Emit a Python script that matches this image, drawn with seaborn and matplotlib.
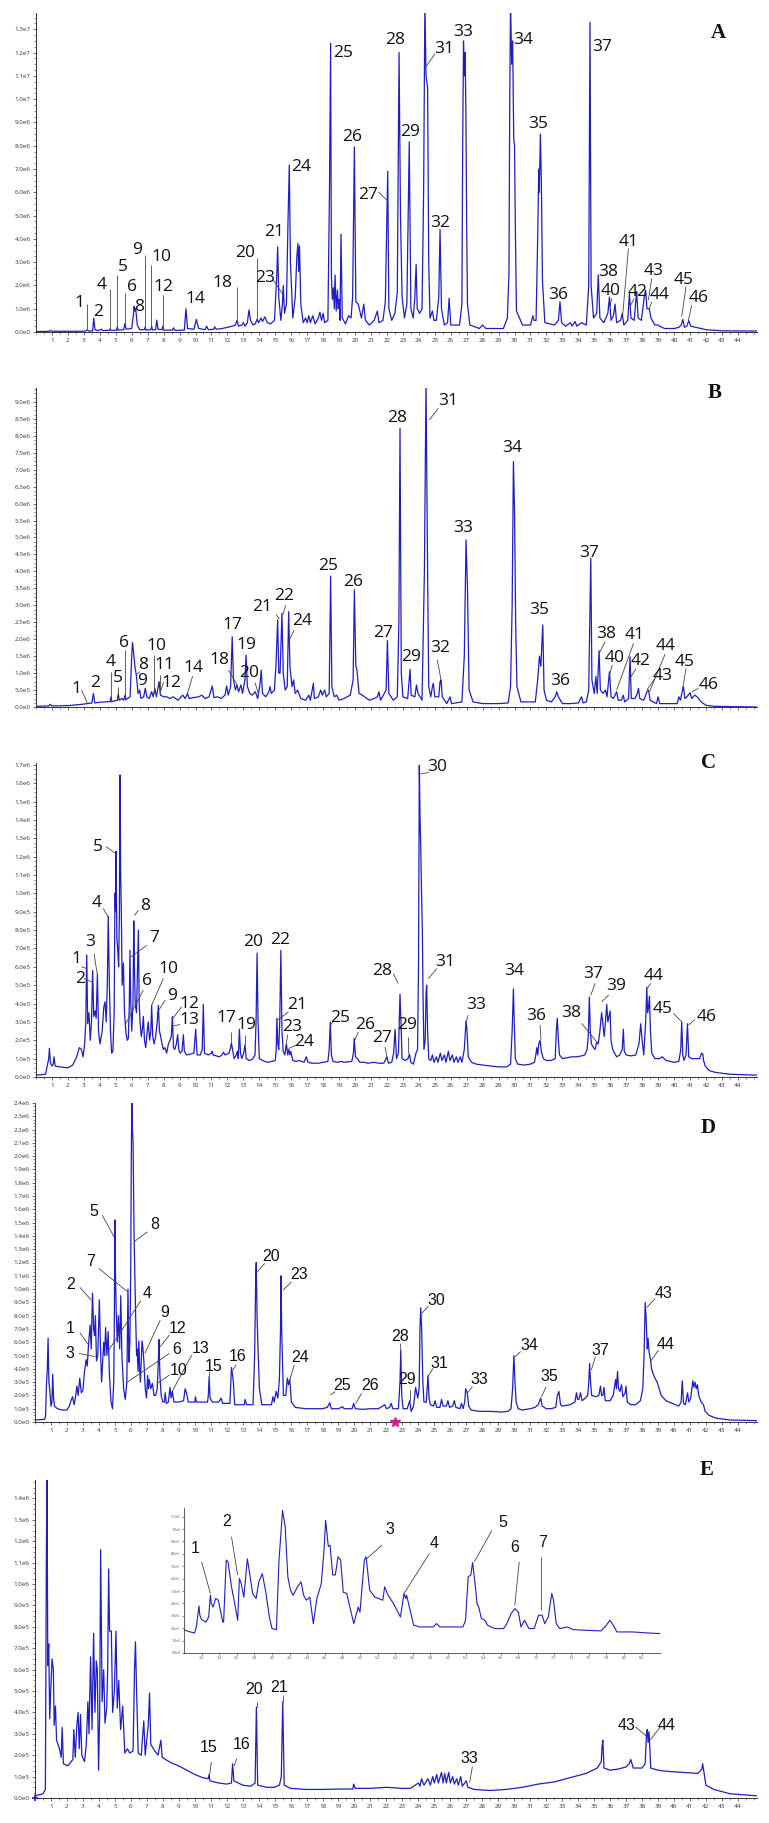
import math
import matplotlib
matplotlib.use('Agg')
import matplotlib.pyplot as plt
from matplotlib.ticker import FixedLocator, FuncFormatter, MultipleLocator
import numpy as np
import pandas as pd
import seaborn as sns

# ---- data: (retention time min, intensity) ----
# A and B intensities in 1e6 counts, C, D, E and inset in 1e5 counts
a_trace = [
    (0.0, 0.02), (0.8, 0.03), (0.9, 0.07), (1.0, 0.03), (2.5, 0.03), (3.1, 0.04), (3.2, 0.09), (3.3, 0.04),
    (3.55, 0.05), (3.62, 0.59), (3.7, 0.1), (3.9, 0.06), (4.1, 0.12), (4.2, 0.06), (4.6, 0.08), (4.65, 0.14),
    (4.7, 0.07), (5.05, 0.08), (5.1, 0.22), (5.15, 0.08), (5.5, 0.1), (5.57, 0.36), (5.65, 0.12), (6.0, 0.15),
    (6.1, 0.7), (6.15, 1.1), (6.2, 0.9), (6.25, 1.0), (6.35, 0.3), (6.5, 0.1), (6.8, 0.1), (6.85, 0.22),
    (6.9, 0.08), (7.2, 0.1), (7.25, 0.25), (7.3, 0.09), (7.5, 0.1), (7.57, 0.51), (7.65, 0.12), (7.9, 0.1),
    (7.95, 0.25), (8.0, 0.08), (8.55, 0.08), (8.62, 0.18), (8.7, 0.07), (9.3, 0.08), (9.4, 1.0), (9.5, 0.15),
    (9.9, 0.12), (10.05, 0.54), (10.2, 0.15), (10.6, 0.1), (10.7, 0.25), (10.8, 0.1), (11.15, 0.12), (11.2, 0.22),
    (11.3, 0.12), (11.6, 0.14), (12.0, 0.2), (12.3, 0.25), (12.5, 0.3), (12.6, 0.5), (12.7, 0.25), (12.9, 0.3),
    (13.0, 0.4), (13.1, 0.25), (13.25, 0.4), (13.35, 0.95), (13.45, 0.5), (13.6, 0.3), (13.75, 0.35), (13.85, 0.55),
    (13.95, 0.4), (14.1, 0.6), (14.2, 0.45), (14.35, 0.65), (14.5, 0.4), (14.7, 0.35), (14.95, 0.5), (15.1, 2.5),
    (15.15, 3.66), (15.22, 1.5), (15.35, 0.5), (15.45, 1.2), (15.5, 2.0), (15.58, 0.8), (15.7, 1.2), (15.8, 4.8),
    (15.88, 7.17), (15.95, 3.0), (16.1, 0.6), (16.25, 1.5), (16.35, 3.2), (16.42, 3.8), (16.47, 2.6), (16.52, 3.7),
    (16.6, 1.2), (16.75, 0.4), (16.9, 0.6), (17.0, 0.4), (17.1, 0.7), (17.2, 0.4), (17.35, 0.7), (17.5, 0.35),
    (17.7, 0.6), (17.8, 0.85), (17.9, 0.5), (18.0, 0.8), (18.1, 0.4), (18.3, 0.5), (18.4, 6.2), (18.47, 12.4),
    (18.52, 2.4), (18.58, 1.4), (18.65, 1.9), (18.7, 1.0), (18.75, 2.45), (18.82, 0.9), (18.9, 1.8), (18.95, 1.0),
    (19.0, 1.4), (19.06, 0.5), (19.12, 4.2), (19.2, 0.6), (19.4, 0.35), (19.6, 0.7), (19.75, 0.6), (19.85, 1.5),
    (19.96, 7.95), (20.05, 1.3), (20.2, 1.2), (20.3, 0.9), (20.4, 0.6), (20.55, 1.2), (20.65, 0.5), (20.9, 0.3),
    (21.2, 0.5), (21.4, 0.9), (21.5, 0.4), (21.75, 0.5), (21.9, 1.3), (22.05, 6.9), (22.12, 1.0), (22.3, 0.5),
    (22.5, 0.8), (22.65, 1.7), (22.76, 12.0), (22.85, 5.0), (22.95, 1.5), (23.1, 0.6), (23.25, 1.2), (23.4, 8.17),
    (23.5, 1.0), (23.65, 0.6), (23.75, 1.5), (23.83, 2.9), (23.9, 1.0), (24.05, 0.8), (24.2, 1.0), (24.3, 6.0),
    (24.38, 14.2), (24.45, 11.0), (24.55, 10.5), (24.62, 3.0), (24.7, 0.6), (24.85, 0.9), (24.95, 0.5), (25.1, 0.5),
    (25.25, 1.5), (25.33, 4.4), (25.42, 1.0), (25.6, 0.3), (25.8, 0.4), (25.9, 1.45), (26.0, 0.3), (26.55, 0.3),
    (26.7, 1.2), (26.75, 8.0), (26.8, 12.5), (26.85, 11.0), (26.9, 12.0), (26.95, 9.5), (27.0, 4.5), (27.05, 1.2),
    (27.2, 0.3), (27.8, 0.15), (28.0, 0.3), (28.2, 0.15), (29.3, 0.15), (29.55, 0.6), (29.65, 2.5), (29.7, 10.0),
    (29.75, 14.2), (29.82, 11.5), (29.88, 12.5), (29.95, 8.3), (30.0, 8.0), (30.05, 4.5), (30.12, 0.9), (30.5, 0.3),
    (31.0, 0.3), (31.15, 0.7), (31.22, 0.5), (31.35, 0.5), (31.45, 4.0), (31.52, 7.0), (31.55, 6.0), (31.62, 8.5),
    (31.68, 6.5), (31.75, 2.2), (31.9, 0.4), (32.2, 0.35), (32.5, 0.3), (32.75, 0.5), (32.85, 1.3), (32.95, 0.4),
    (33.2, 0.25), (33.5, 0.4), (33.6, 0.25), (33.8, 0.45), (33.9, 0.25), (34.2, 0.4), (34.5, 0.3), (34.65, 2.0),
    (34.73, 13.3), (34.8, 2.0), (34.95, 0.6), (35.15, 0.8), (35.25, 2.45), (35.35, 0.6), (35.6, 0.4), (35.85, 0.8),
    (35.95, 1.5), (36.05, 0.5), (36.2, 0.7), (36.3, 1.2), (36.4, 0.4), (36.65, 0.5), (36.75, 0.8), (36.85, 0.3),
    (37.1, 0.5), (37.2, 1.65), (37.3, 0.6), (37.5, 0.5), (37.65, 1.73), (37.75, 0.6), (37.95, 0.5), (38.15, 1.6),
    (38.22, 1.8), (38.3, 1.0), (38.45, 1.0), (38.55, 0.6), (38.8, 0.3), (39.0, 0.3), (39.1, 0.25), (39.4, 0.15),
    (40.0, 0.15), (40.3, 0.2), (40.45, 0.3), (40.55, 0.54), (40.65, 0.2), (40.8, 0.25), (40.92, 0.49), (41.05, 0.25),
    (41.5, 0.18), (42.0, 0.1), (43.0, 0.05), (45.2, 0.04),
]

b_trace = [
    (0.0, 0.02), (0.8, 0.03), (0.9, 0.08), (1.0, 0.03), (2.0, 0.04), (2.9, 0.08), (3.2, 0.1), (3.5, 0.12),
    (3.6, 0.4), (3.68, 0.12), (4.0, 0.14), (4.3, 0.15), (4.65, 0.16), (4.7, 0.3), (4.75, 0.16), (5.1, 0.2),
    (5.16, 0.4), (5.22, 0.2), (5.4, 0.25), (5.5, 0.2), (5.58, 0.35), (5.65, 0.22), (5.9, 0.3), (6.0, 1.5),
    (6.05, 1.9), (6.12, 1.6), (6.2, 1.2), (6.3, 0.9), (6.4, 0.4), (6.5, 0.5), (6.58, 0.25), (6.75, 0.3),
    (6.85, 0.55), (6.95, 0.3), (7.1, 0.25), (7.25, 0.45), (7.35, 0.3), (7.45, 0.55), (7.55, 0.3), (7.72, 0.75),
    (7.8, 0.35), (8.0, 0.3), (8.2, 0.3), (8.4, 0.25), (8.6, 0.3), (8.9, 0.2), (9.2, 0.35), (9.35, 0.25),
    (9.5, 0.4), (9.6, 0.25), (9.9, 0.28), (10.2, 0.3), (10.4, 0.35), (10.6, 0.25), (10.85, 0.3), (11.05, 0.62),
    (11.15, 0.28), (11.4, 0.3), (11.6, 0.25), (11.85, 0.35), (11.95, 0.62), (12.05, 0.35), (12.2, 0.6), (12.3, 2.07),
    (12.38, 0.8), (12.5, 0.5), (12.6, 0.65), (12.7, 0.45), (12.85, 0.65), (12.95, 0.4), (13.1, 0.8), (13.17, 1.53),
    (13.25, 0.6), (13.4, 0.4), (13.55, 0.35), (13.75, 0.45), (13.9, 0.25), (14.05, 0.7), (14.12, 1.09), (14.2, 0.4),
    (14.4, 0.3), (14.6, 0.45), (14.67, 0.6), (14.75, 0.4), (14.95, 0.5), (15.05, 1.3), (15.15, 2.57), (15.22, 1.0),
    (15.3, 1.0), (15.42, 2.76), (15.5, 1.0), (15.62, 0.5), (15.75, 0.6), (15.84, 2.81), (15.92, 1.2), (16.05, 0.6),
    (16.15, 0.8), (16.25, 0.4), (16.4, 0.5), (16.6, 0.25), (16.9, 0.2), (17.1, 0.35), (17.2, 0.2), (17.39, 0.7),
    (17.45, 0.25), (17.7, 0.3), (17.85, 0.5), (17.95, 0.35), (18.1, 0.5), (18.2, 0.3), (18.38, 0.4), (18.47, 3.86),
    (18.55, 0.6), (18.7, 0.3), (18.85, 0.35), (19.0, 0.2), (19.3, 0.25), (19.5, 0.3), (19.7, 0.35), (19.88, 0.8),
    (19.96, 3.45), (20.05, 1.2), (20.12, 1.1), (20.25, 0.4), (20.45, 0.35), (20.6, 0.3), (20.9, 0.2), (21.2, 0.25),
    (21.4, 0.3), (21.5, 0.45), (21.6, 0.2), (21.95, 0.5), (22.03, 1.96), (22.12, 0.4), (22.4, 0.2), (22.65, 0.3),
    (22.75, 2.5), (22.82, 8.22), (22.9, 1.0), (23.0, 0.3), (23.3, 0.25), (23.4, 0.8), (23.45, 1.11), (23.52, 0.35),
    (23.75, 0.3), (23.85, 0.65), (23.95, 0.4), (24.2, 0.2), (24.35, 4.0), (24.45, 9.6), (24.55, 4.0), (24.62, 0.6),
    (24.75, 0.3), (24.85, 0.6), (24.91, 0.7), (25.0, 0.3), (25.25, 0.3), (25.33, 0.75), (25.39, 0.8), (25.47, 0.3),
    (25.75, 0.1), (25.96, 0.3), (26.05, 0.1), (26.7, 0.15), (26.85, 1.5), (26.96, 4.93), (27.05, 3.5), (27.15, 0.5),
    (27.4, 0.15), (28.0, 0.1), (29.0, 0.1), (29.6, 0.12), (29.75, 0.6), (29.85, 3.0), (29.93, 7.24), (30.0, 5.8),
    (30.07, 2.5), (30.15, 0.6), (30.4, 0.15), (31.3, 0.15), (31.45, 0.8), (31.56, 1.5), (31.65, 1.2), (31.77, 2.42),
    (31.85, 0.5), (32.0, 0.2), (32.3, 0.15), (32.55, 0.3), (32.65, 0.45), (32.75, 0.3), (33.0, 0.1), (33.5, 0.1),
    (34.0, 0.12), (34.2, 0.3), (34.3, 0.12), (34.5, 0.15), (34.65, 0.5), (34.78, 4.39), (34.85, 0.8), (35.0, 0.4),
    (35.1, 0.9), (35.18, 0.4), (35.3, 1.66), (35.38, 0.5), (35.55, 0.4), (35.7, 0.5), (35.8, 0.3), (35.95, 1.04),
    (36.05, 0.3), (36.2, 0.25), (36.4, 0.45), (36.5, 0.2), (36.7, 0.2), (36.82, 0.35), (36.9, 0.15), (37.15, 0.25),
    (37.24, 1.48), (37.32, 0.25), (37.55, 0.25), (37.7, 0.4), (37.77, 0.55), (37.85, 0.25), (38.1, 0.2), (38.3, 0.45),
    (38.4, 0.5), (38.5, 0.2), (38.9, 0.1), (39.0, 0.3), (39.1, 0.1), (40.2, 0.1), (40.3, 0.3), (40.4, 0.2),
    (40.58, 0.62), (40.68, 0.25), (40.8, 0.3), (41.0, 0.42), (41.1, 0.25), (41.3, 0.35), (41.45, 0.3), (41.7, 0.15),
    (42.0, 0.05), (42.5, 0.02), (45.2, 0.0),
]

c_trace = [
    (0.0, 0.1), (0.6, 0.15), (0.7, 0.6), (0.8, 1.0), (0.84, 1.56), (0.9, 0.8), (1.0, 0.6), (1.08, 0.7),
    (1.13, 1.1), (1.2, 0.6), (1.5, 0.55), (2.0, 0.5), (2.3, 0.65), (2.55, 1.1), (2.72, 1.6), (2.85, 1.5),
    (2.95, 1.1), (3.05, 1.8), (3.12, 3.0), (3.18, 6.65), (3.24, 2.9), (3.32, 3.5), (3.4, 2.0), (3.48, 3.0),
    (3.55, 5.8), (3.62, 3.3), (3.7, 3.6), (3.77, 3.2), (3.85, 5.6), (3.92, 2.5), (4.01, 1.8), (4.15, 2.5),
    (4.25, 3.8), (4.33, 4.1), (4.4, 3.0), (4.47, 5.0), (4.53, 8.75), (4.6, 5.0), (4.67, 2.5), (4.74, 1.3),
    (4.82, 1.4), (4.9, 3.5), (4.95, 10.0), (4.99, 9.0), (5.02, 12.3), (5.07, 7.5), (5.12, 7.0), (5.18, 6.0),
    (5.23, 9.0), (5.27, 16.45), (5.31, 11.0), (5.35, 9.0), (5.4, 5.0), (5.48, 6.2), (5.55, 3.5), (5.64, 2.4),
    (5.72, 2.0), (5.79, 2.1), (5.85, 4.0), (5.89, 6.9), (5.94, 4.0), (6.0, 2.5), (6.08, 4.0), (6.13, 8.5),
    (6.17, 6.0), (6.22, 4.0), (6.3, 3.5), (6.37, 6.0), (6.42, 8.0), (6.47, 4.0), (6.52, 3.0), (6.6, 2.2),
    (6.67, 2.6), (6.73, 3.3), (6.8, 2.0), (6.88, 1.6), (6.95, 2.3), (7.04, 3.0), (7.12, 2.0), (7.2, 2.5),
    (7.25, 3.9), (7.32, 2.2), (7.4, 1.8), (7.5, 2.2), (7.6, 3.0), (7.67, 3.9), (7.74, 2.5), (7.82, 2.2),
    (7.9, 1.8), (7.98, 1.5), (8.08, 1.6), (8.19, 1.3), (8.3, 1.8), (8.4, 2.0), (8.48, 2.2), (8.55, 3.3),
    (8.62, 1.6), (8.7, 1.5), (8.8, 1.8), (8.88, 2.3), (8.95, 1.5), (9.03, 1.3), (9.15, 1.4), (9.24, 2.3),
    (9.3, 1.4), (9.45, 1.2), (9.7, 1.25), (9.9, 1.3), (10.01, 2.6), (10.1, 1.2), (10.3, 1.2), (10.42, 1.5),
    (10.49, 3.95), (10.56, 1.3), (10.8, 1.2), (11.0, 1.3), (11.05, 1.4), (11.1, 1.2), (11.5, 1.1), (11.65, 1.2),
    (11.75, 1.35), (11.85, 1.2), (12.1, 1.3), (12.2, 1.6), (12.25, 1.85), (12.32, 1.5), (12.42, 1.0), (12.55, 1.2),
    (12.62, 1.4), (12.68, 1.0), (12.75, 2.6), (12.82, 1.3), (12.9, 1.0), (13.02, 1.3), (13.1, 1.75), (13.18, 1.0),
    (13.35, 0.9), (13.55, 0.95), (13.73, 1.2), (13.8, 3.2), (13.86, 6.75), (13.92, 3.0), (14.0, 1.0), (14.2, 0.9),
    (14.5, 0.8), (14.8, 0.85), (15.0, 0.9), (15.06, 1.5), (15.1, 3.2), (15.16, 1.8), (15.22, 1.5), (15.28, 3.0),
    (15.35, 6.9), (15.42, 2.5), (15.5, 1.4), (15.6, 1.2), (15.7, 1.8), (15.78, 1.2), (15.85, 1.5), (15.92, 1.2),
    (15.97, 1.4), (16.1, 0.9), (16.3, 0.85), (16.5, 0.9), (16.8, 0.8), (16.95, 1.1), (17.05, 0.8), (17.3, 0.75),
    (17.7, 0.75), (18.0, 0.8), (18.3, 0.85), (18.38, 1.5), (18.45, 3.0), (18.52, 1.2), (18.62, 0.85), (18.9, 0.8),
    (19.15, 0.85), (19.3, 0.8), (19.8, 0.85), (19.9, 1.3), (19.95, 2.1), (20.03, 1.1), (20.15, 1.0), (20.3, 0.8),
    (20.6, 0.8), (20.8, 0.75), (21.2, 0.8), (21.5, 0.75), (21.8, 0.75), (21.92, 0.95), (22.0, 1.1), (22.1, 0.75),
    (22.3, 0.8), (22.42, 1.3), (22.51, 2.6), (22.6, 1.0), (22.72, 1.3), (22.82, 4.5), (22.88, 3.0), (22.95, 1.0),
    (23.15, 0.9), (23.32, 1.0), (23.41, 1.25), (23.5, 0.8), (23.66, 0.7), (23.82, 1.3), (23.92, 1.5), (23.98, 6.0),
    (24.03, 16.97), (24.08, 14.0), (24.12, 12.5), (24.17, 10.0), (24.22, 8.0), (24.27, 4.0), (24.32, 1.5), (24.4, 2.0),
    (24.45, 4.5), (24.49, 5.0), (24.55, 2.5), (24.62, 1.0), (24.75, 0.9), (24.85, 1.2), (24.95, 0.8), (25.1, 1.1),
    (25.2, 0.8), (25.35, 1.3), (25.45, 0.9), (25.6, 1.2), (25.7, 0.8), (25.85, 1.4), (25.95, 0.9), (26.1, 1.2),
    (26.2, 0.8), (26.35, 1.1), (26.45, 0.8), (26.6, 1.1), (26.7, 0.8), (26.85, 1.5), (26.96, 3.05), (27.02, 2.5),
    (27.1, 1.1), (27.3, 0.8), (27.6, 0.7), (28.0, 0.65), (28.5, 0.6), (29.0, 0.55), (29.5, 0.55), (29.75, 0.7),
    (29.85, 2.5), (29.93, 4.8), (29.98, 3.0), (30.05, 1.0), (30.2, 0.7), (30.6, 0.65), (31.0, 0.7), (31.25, 0.8),
    (31.35, 1.3), (31.39, 1.6), (31.45, 1.2), (31.52, 1.8), (31.6, 2.0), (31.68, 1.4), (31.8, 1.0), (32.0, 0.9),
    (32.3, 0.9), (32.55, 1.0), (32.62, 2.5), (32.68, 3.2), (32.75, 2.0), (32.82, 1.2), (33.0, 1.0), (33.3, 1.05),
    (33.6, 1.1), (33.9, 1.1), (34.2, 1.15), (34.4, 1.2), (34.55, 1.5), (34.62, 2.2), (34.69, 4.35), (34.75, 2.5),
    (34.82, 1.8), (34.95, 1.6), (35.05, 1.5), (35.15, 1.9), (35.25, 1.8), (35.35, 2.5), (35.46, 3.5), (35.55, 2.8),
    (35.62, 2.2), (35.7, 3.0), (35.78, 3.95), (35.85, 3.0), (35.92, 3.3), (35.99, 3.6), (36.05, 2.0), (36.15, 1.5),
    (36.4, 1.1), (36.6, 1.2), (36.75, 1.5), (36.82, 2.6), (36.88, 1.4), (37.0, 1.2), (37.3, 1.15), (37.6, 1.2),
    (37.8, 1.8), (37.91, 2.9), (38.0, 2.0), (38.1, 1.2), (38.22, 3.0), (38.29, 4.9), (38.34, 3.5), (38.4, 3.8),
    (38.46, 4.4), (38.52, 2.5), (38.6, 1.3), (38.8, 1.0), (39.1, 1.0), (39.25, 1.1), (39.5, 0.9), (40.0, 0.8),
    (40.3, 0.85), (40.42, 1.5), (40.48, 3.0), (40.55, 1.2), (40.62, 0.9), (40.75, 1.2), (40.84, 2.9), (40.92, 1.1),
    (41.1, 1.0), (41.4, 1.0), (41.6, 1.0), (41.72, 1.3), (41.8, 1.25), (41.85, 0.9), (41.95, 0.6), (42.2, 0.35),
    (42.6, 0.25), (43.5, 0.15), (45.2, 0.1),
]

d_trace = [
    (0.0, 0.15), (0.6, 0.2), (0.66, 0.4), (0.71, 2.6), (0.77, 4.0), (0.82, 6.3), (0.87, 3.0), (0.92, 2.5),
    (1.0, 1.2), (1.06, 1.5), (1.11, 3.6), (1.16, 1.8), (1.22, 1.2), (1.4, 1.0), (1.7, 0.9), (2.0, 0.9),
    (2.15, 1.2), (2.25, 1.6), (2.35, 1.9), (2.45, 1.3), (2.55, 2.0), (2.62, 2.7), (2.7, 2.0), (2.8, 3.3),
    (2.9, 2.2), (3.0, 2.4), (3.1, 3.8), (3.2, 4.7), (3.27, 4.2), (3.35, 5.8), (3.45, 7.3), (3.52, 5.5),
    (3.6, 9.7), (3.67, 7.0), (3.73, 6.5), (3.78, 8.0), (3.85, 4.6), (3.93, 5.0), (4.03, 9.2), (4.1, 5.5),
    (4.17, 3.0), (4.3, 6.0), (4.36, 5.0), (4.42, 7.1), (4.5, 5.0), (4.58, 6.8), (4.66, 3.5), (4.76, 1.5),
    (4.85, 1.0), (4.93, 3.0), (4.97, 8.0), (5.0, 15.2), (5.04, 11.0), (5.08, 8.5), (5.15, 6.0), (5.22, 8.0),
    (5.3, 5.5), (5.37, 9.5), (5.44, 5.0), (5.55, 2.5), (5.65, 1.7), (5.75, 3.0), (5.82, 10.0), (5.88, 4.5),
    (5.94, 6.0), (5.99, 11.0), (6.03, 20.0), (6.06, 24.2), (6.1, 22.0), (6.14, 21.0), (6.2, 14.2), (6.25, 11.0),
    (6.3, 8.0), (6.36, 5.0), (6.4, 5.5), (6.45, 3.8), (6.5, 6.1), (6.55, 4.0), (6.6, 3.0), (6.7, 6.1),
    (6.76, 5.5), (6.82, 4.5), (6.9, 2.5), (6.98, 1.8), (7.05, 3.5), (7.1, 2.5), (7.15, 3.2), (7.25, 2.5),
    (7.35, 2.9), (7.45, 2.0), (7.55, 2.0), (7.65, 2.5), (7.72, 4.5), (7.76, 6.2), (7.82, 3.5), (7.9, 2.0),
    (8.0, 1.5), (8.1, 1.5), (8.15, 2.2), (8.22, 1.4), (8.35, 1.5), (8.45, 2.6), (8.52, 1.8), (8.6, 2.3),
    (8.7, 1.5), (9.0, 1.5), (9.3, 1.6), (9.4, 2.5), (9.5, 2.1), (9.6, 1.5), (10.0, 1.5), (10.05, 1.9),
    (10.1, 1.5), (10.8, 1.5), (10.85, 2.0), (10.9, 3.4), (10.96, 1.8), (11.1, 1.5), (11.5, 1.5), (11.65, 1.8),
    (11.75, 1.4), (12.2, 1.4), (12.3, 4.1), (12.36, 3.6), (12.42, 3.0), (12.5, 1.3), (12.9, 1.3), (13.1, 1.3),
    (13.15, 1.7), (13.25, 1.3), (13.65, 1.3), (13.75, 5.0), (13.82, 11.0), (13.85, 12.0), (13.9, 8.0), (13.95, 6.0),
    (14.05, 2.5), (14.2, 1.3), (14.8, 1.3), (14.9, 1.9), (14.97, 1.5), (15.1, 2.3), (15.2, 1.8), (15.3, 3.2),
    (15.37, 7.0), (15.4, 11.0), (15.45, 6.5), (15.55, 2.0), (15.7, 2.0), (15.8, 3.3), (15.87, 2.8), (15.95, 3.2),
    (16.05, 1.5), (16.3, 1.1), (16.6, 1.05), (17.0, 1.0), (17.5, 1.0), (18.0, 1.0), (18.3, 1.1), (18.45, 1.45),
    (18.55, 1.0), (19.0, 1.0), (19.25, 1.15), (19.35, 1.0), (19.85, 1.0), (19.95, 1.4), (20.05, 1.0), (20.5, 0.95),
    (21.0, 1.0), (21.5, 1.0), (21.9, 1.3), (22.0, 1.0), (22.2, 1.1), (22.3, 1.4), (22.4, 1.0), (22.75, 1.0),
    (22.85, 3.0), (22.9, 5.4), (22.96, 2.0), (23.04, 1.0), (23.3, 1.0), (23.46, 1.6), (23.55, 0.8), (23.7, 1.2),
    (23.83, 2.6), (23.96, 1.8), (24.05, 2.5), (24.1, 7.0), (24.15, 8.6), (24.21, 6.8), (24.28, 3.0), (24.35, 1.5),
    (24.5, 1.5), (24.6, 3.5), (24.67, 1.8), (24.75, 1.3), (24.95, 1.2), (25.05, 1.6), (25.15, 1.1), (25.35, 1.1),
    (25.45, 1.7), (25.55, 1.2), (25.75, 1.2), (25.85, 1.6), (25.95, 1.1), (26.15, 1.2), (26.25, 1.6), (26.35, 1.1),
    (26.6, 1.0), (26.7, 1.4), (26.8, 1.0), (26.9, 1.5), (26.96, 2.5), (27.06, 2.2), (27.15, 1.2), (27.3, 0.9),
    (27.8, 0.8), (28.5, 0.8), (29.2, 0.75), (29.6, 0.8), (29.8, 1.0), (29.9, 2.5), (29.98, 5.0), (30.05, 3.0),
    (30.12, 1.5), (30.25, 1.0), (30.5, 0.9), (31.0, 1.0), (31.3, 1.1), (31.5, 1.3), (31.6, 1.6), (31.66, 1.8),
    (31.75, 1.2), (32.0, 1.0), (32.3, 1.0), (32.6, 1.1), (32.7, 2.0), (32.8, 2.3), (32.9, 1.3), (33.0, 1.2),
    (33.5, 1.3), (33.8, 1.5), (33.9, 2.2), (33.97, 1.7), (34.05, 1.7), (34.15, 2.2), (34.25, 1.6), (34.45, 1.8),
    (34.6, 2.0), (34.67, 3.0), (34.72, 4.4), (34.78, 3.0), (34.85, 2.0), (35.1, 1.9), (35.3, 2.0), (35.4, 2.7),
    (35.47, 2.0), (35.55, 2.0), (35.62, 2.6), (35.7, 1.6), (36.0, 1.6), (36.2, 2.0), (36.3, 2.8), (36.35, 3.2),
    (36.4, 2.5), (36.47, 3.8), (36.53, 2.5), (36.62, 2.3), (36.72, 2.8), (36.8, 1.9), (36.95, 2.2), (37.0, 2.7),
    (37.08, 1.5), (37.3, 1.3), (37.6, 1.3), (37.9, 1.6), (38.05, 2.5), (38.13, 5.0), (38.2, 9.0), (38.26, 7.8),
    (38.33, 5.5), (38.38, 6.3), (38.45, 5.2), (38.52, 4.8), (38.6, 4.0), (38.7, 3.6), (38.85, 3.2), (38.95, 3.0),
    (39.2, 2.0), (39.5, 1.6), (39.9, 1.4), (40.3, 1.2), (40.45, 1.5), (40.52, 3.1), (40.6, 1.4), (40.72, 1.3),
    (40.85, 2.2), (40.93, 1.5), (41.05, 1.8), (41.18, 3.1), (41.25, 2.6), (41.32, 3.0), (41.4, 2.5), (41.47, 2.8),
    (41.55, 2.0), (41.7, 1.5), (41.85, 1.3), (41.95, 0.8), (42.2, 0.5), (42.6, 0.3), (43.5, 0.15), (45.2, 0.1),
]

e_trace = [
    (0.0, 0.1), (0.5, 0.2), (0.65, 0.4), (0.71, 11.0), (0.75, 15.5), (0.8, 6.2), (0.86, 7.2), (0.92, 3.7),
    (1.0, 5.3), (1.07, 6.5), (1.15, 6.0), (1.2, 3.4), (1.28, 4.3), (1.35, 2.7), (1.53, 2.3), (1.64, 1.9),
    (1.7, 3.3), (1.78, 1.6), (2.05, 1.5), (2.37, 1.8), (2.43, 3.2), (2.52, 1.9), (2.62, 3.4), (2.7, 4.0),
    (2.77, 2.3), (2.85, 3.9), (2.93, 2.0), (3.1, 1.7), (3.21, 2.5), (3.31, 4.5), (3.38, 3.0), (3.48, 6.6),
    (3.57, 3.2), (3.67, 7.7), (3.75, 4.0), (3.84, 6.4), (3.9, 6.0), (3.98, 1.3), (4.05, 4.0), (4.11, 11.6),
    (4.2, 4.5), (4.3, 6.0), (4.38, 3.5), (4.49, 4.2), (4.55, 6.0), (4.61, 10.7), (4.67, 7.8), (4.72, 7.8),
    (4.78, 7.8), (4.86, 4.0), (4.97, 5.0), (5.07, 7.8), (5.15, 4.2), (5.24, 5.5), (5.36, 3.2), (5.49, 4.3),
    (5.62, 2.1), (5.79, 2.3), (5.93, 2.1), (6.14, 2.2), (6.23, 6.0), (6.29, 7.3), (6.36, 5.0), (6.46, 2.1),
    (6.65, 2.0), (6.81, 3.6), (6.9, 2.0), (7.09, 3.4), (7.17, 4.9), (7.25, 2.5), (7.5, 2.2), (7.7, 2.0),
    (7.88, 2.7), (7.96, 1.9), (8.5, 1.65), (9.0, 1.5), (9.5, 1.3), (10.0, 1.1), (10.5, 0.95), (10.85, 0.9),
    (10.9, 1.1), (10.95, 0.8), (11.5, 0.7), (12.0, 0.65), (12.3, 0.7), (12.37, 1.6), (12.45, 0.8), (13.0, 0.6),
    (13.5, 0.55), (13.78, 0.7), (13.86, 4.25), (13.94, 0.6), (14.5, 0.5), (15.0, 0.5), (15.3, 0.6), (15.42, 1.0),
    (15.51, 4.5), (15.6, 0.6), (16.0, 0.45), (17.0, 0.4), (18.0, 0.4), (19.0, 0.42), (19.9, 0.42), (19.95, 0.65),
    (20.05, 0.45), (21.0, 0.45), (22.0, 0.5), (23.0, 0.45), (23.5, 0.45), (23.8, 0.6), (24.0, 0.7), (24.1, 0.55),
    (24.2, 0.9), (24.35, 0.6), (24.6, 0.9), (24.75, 0.6), (24.9, 1.0), (25.0, 0.7), (25.15, 1.1), (25.25, 0.7),
    (25.45, 1.2), (25.55, 0.7), (25.65, 1.15), (25.75, 0.7), (25.9, 1.2), (26.0, 0.7), (26.15, 1.0), (26.25, 0.65),
    (26.4, 0.9), (26.5, 0.6), (26.65, 1.0), (26.75, 0.55), (27.0, 0.8), (27.1, 0.5), (27.5, 0.4), (28.5, 0.35),
    (29.5, 0.4), (30.5, 0.5), (31.5, 0.65), (32.5, 0.75), (33.5, 0.95), (34.5, 1.15), (35.2, 1.4), (35.45, 1.7),
    (35.5, 2.4), (35.55, 2.7), (35.62, 1.4), (36.0, 1.3), (36.5, 1.35), (37.0, 1.45), (37.2, 1.6), (37.3, 1.8),
    (37.45, 1.4), (38.0, 1.4), (38.2, 1.6), (38.28, 3.0), (38.33, 3.2), (38.38, 2.6), (38.44, 3.1), (38.55, 1.4),
    (39.0, 1.3), (39.5, 1.25), (40.5, 1.2), (41.5, 1.15), (41.75, 1.35), (41.8, 1.6), (41.86, 1.3), (42.0, 0.6),
    (42.5, 0.4), (43.5, 0.2), (45.2, 0.1),
]

inset_trace = [
    (2.99, 1.89), (3.07, 1.7), (3.12, 1.62), (3.14, 2.1), (3.17, 3.8), (3.18, 3.05), (3.2, 2.7), (3.25, 2.5),
    (3.28, 2.9), (3.3, 4.66), (3.31, 4.0), (3.33, 3.7), (3.36, 4.4), (3.39, 4.26), (3.44, 2.5), (3.45, 2.5),
    (3.48, 7.5), (3.5, 7.36), (3.54, 5.34), (3.58, 3.85), (3.61, 2.64), (3.63, 6.0), (3.65, 5.6), (3.68, 4.5),
    (3.72, 7.6), (3.74, 6.7), (3.78, 4.8), (3.82, 4.4), (3.85, 5.74), (3.89, 6.4), (3.93, 4.9), (3.97, 2.9),
    (4.0, 1.97), (4.05, 1.89), (4.08, 7.5), (4.12, 11.5), (4.15, 10.2), (4.18, 6.15), (4.21, 5.07), (4.24, 4.66),
    (4.29, 5.34), (4.33, 5.74), (4.36, 4.66), (4.39, 4.26), (4.43, 4.5), (4.47, 2.37), (4.51, 4.4), (4.56, 5.6),
    (4.59, 8.17), (4.61, 10.7), (4.64, 8.6), (4.66, 8.7), (4.69, 6.3), (4.72, 6.3), (4.75, 7.76), (4.78, 7.5),
    (4.81, 4.9), (4.85, 4.8), (4.88, 3.85), (4.93, 2.37), (4.95, 2.9), (4.98, 3.7), (5.0, 3.3), (5.05, 7.5),
    (5.07, 7.76), (5.11, 5.07), (5.17, 4.5), (5.21, 4.4), (5.26, 4.26), (5.28, 5.34), (5.32, 4.66), (5.38, 4.0),
    (5.46, 2.9), (5.5, 4.8), (5.52, 4.4), (5.53, 4.66), (5.57, 3.45), (5.61, 2.24), (5.68, 2.1), (5.83, 2.1),
    (5.87, 2.37), (5.91, 2.1), (6.17, 2.1), (6.2, 2.64), (6.23, 6.15), (6.26, 6.3), (6.28, 7.3), (6.31, 5.47),
    (6.33, 4.0), (6.35, 3.7), (6.38, 2.78), (6.42, 2.64), (6.45, 2.24), (6.53, 1.97), (6.63, 1.97), (6.66, 2.24),
    (6.72, 3.2), (6.76, 3.58), (6.8, 3.3), (6.83, 2.1), (6.87, 2.64), (6.92, 1.97), (6.98, 1.97), (7.03, 3.05),
    (7.07, 3.05), (7.1, 2.37), (7.14, 2.9), (7.18, 4.8), (7.2, 4.26), (7.23, 2.37), (7.27, 1.97), (7.36, 2.1),
    (7.42, 1.89), (7.57, 1.83), (7.74, 1.78), (7.8, 2.24), (7.84, 2.64), (7.88, 2.24), (7.92, 1.7), (8.1, 1.7),
    (8.26, 1.62), (8.43, 1.56),
]

# peak numbers: (text, text time, text intensity, leader line (t0, v0, t1, v1) or None)
a_labels = [
    ("1", 2.72, 1.23, (3.22, 1.2, 3.22, 0.09)), ("2", 3.87, 0.87, None),
    ("4", 4.12, 2.02, (4.64, 1.83, 4.64, 0.1)), ("5", 5.43, 2.8, (5.1, 2.45, 5.1, 0.18)),
    ("6", 6.0, 1.95, (5.58, 1.66, 5.58, 0.3)), ("8", 6.48, 1.06, None),
    ("9", 6.31, 3.52, (6.83, 3.3, 6.83, 0.15)), ("10", 7.84, 3.2, (7.19, 2.88, 7.19, 0.15)),
    ("12", 7.98, 1.92, (7.94, 1.6, 7.94, 0.15)), ("14", 9.97, 1.4, None),
    ("18", 11.7, 2.12, (12.58, 1.92, 12.58, 0.5)), ("20", 13.1, 3.38, (13.83, 3.16, 13.83, 0.55)),
    ("23", 14.36, 2.3, (14.88, 2.23, 15.5, 1.59)), ("21", 14.92, 4.28, None),
    ("24", 16.59, 7.1, None), ("25", 19.27, 12.0, None), ("26", 19.83, 8.38, None),
    ("27", 20.84, 5.88, (21.46, 6.02, 21.98, 5.67)), ("28", 22.51, 12.56, None),
    ("29", 23.45, 8.6, None), ("31", 25.58, 12.17, (25.02, 11.96, 24.45, 11.39)),
    ("32", 25.37, 4.69, None), ("33", 26.79, 12.89, None), ("34", 30.55, 12.56, None),
    ("35", 31.49, 8.93, None), ("36", 32.71, 1.59, None), ("37", 35.47, 12.25, None),
    ("38", 35.88, 2.59, None), ("40", 36.05, 1.77, (36.1, 1.45, 35.98, 1.1)),
    ("41", 37.14, 3.88, (37.14, 3.59, 36.78, 0.73)), ("42", 37.7, 1.73, (37.5, 1.44, 37.24, 1.09)),
    ("43", 38.75, 2.63, (38.6, 2.3, 38.39, 1.37)), ("44", 39.08, 1.59, (38.6, 1.3, 38.45, 1.0)),
    ("45", 40.62, 2.23, (40.75, 1.95, 40.48, 0.66)), ("46", 41.52, 1.44, (41.11, 1.16, 40.9, 0.52)),
]

b_labels = [
    ("1", 2.51, 0.52, (2.86, 0.5, 3.22, 0.11)), ("2", 3.7, 0.7, None),
    ("4", 4.7, 1.34, (4.7, 1.04, 4.7, 0.16)), ("5", 5.16, 0.87, (5.16, 0.6, 5.16, 0.25)),
    ("6", 5.54, 1.9, (5.58, 1.68, 5.58, 0.2)), ("8", 6.73, 1.24, (6.5, 1.04, 6.3, 0.95)),
    ("9", 6.63, 0.78, None), ("10", 7.52, 1.8, (7.4, 1.53, 7.4, 0.4)),
    ("11", 8.02, 1.24, (7.77, 0.94, 7.77, 0.5)), ("12", 8.5, 0.72, (8.0, 0.74, 7.77, 0.4)),
    ("14", 9.86, 1.14, (9.82, 0.91, 9.49, 0.4)), ("17", 12.31, 2.42, None),
    ("18", 11.47, 1.39, (12.06, 1.09, 12.62, 0.65)), ("19", 13.21, 1.83, None),
    ("20", 13.35, 0.99, (13.73, 0.72, 13.94, 0.4)), ("21", 14.15, 2.96, (15.05, 2.73, 15.26, 2.59)),
    ("22", 15.57, 3.27, (15.65, 3.0, 15.47, 2.71)), ("24", 16.66, 2.54, (16.18, 2.27, 15.84, 1.93)),
    ("25", 18.29, 4.16, None), ("26", 19.85, 3.7, None), ("27", 21.78, 2.19, None),
    ("28", 22.65, 8.52, None), ("29", 23.49, 1.48, None),
    ("31", 25.85, 9.04, (25.22, 8.81, 24.66, 8.47)), ("32", 25.33, 1.73, (25.16, 1.39, 25.39, 0.8)),
    ("33", 26.79, 5.27, None), ("34", 29.87, 7.65, None), ("35", 31.54, 2.86, None),
    ("36", 32.85, 0.78, None), ("37", 34.69, 4.55, None),
    ("38", 35.74, 2.15, (35.68, 1.93, 35.3, 1.58)), ("40", 36.3, 1.46, (36.13, 1.24, 35.95, 0.94)),
    ("41", 37.52, 2.12, (37.46, 1.88, 36.4, 0.5)), ("42", 37.91, 1.37, (37.62, 1.14, 37.24, 0.85)),
    ("43", 39.29, 0.91, (38.81, 0.85, 38.29, 0.5)), ("44", 39.48, 1.81, (39.44, 1.56, 38.46, 0.45)),
    ("45", 40.69, 1.34, (40.75, 1.14, 40.58, 0.65)), ("46", 42.15, 0.65, (41.53, 0.55, 41.12, 0.45)),
]

c_labels = [
    ("1", 2.51, 6.45, (2.86, 6.0, 3.2, 5.9)), ("2", 2.76, 5.36, (3.01, 5.36, 3.49, 5.18)),
    ("3", 3.39, 7.36, (3.64, 6.72, 3.85, 5.54)), ("4", 3.8, 9.47, (4.22, 9.17, 4.53, 8.71)),
    ("5", 3.91, 12.55, (4.39, 12.55, 5.02, 12.15)), ("6", 6.94, 5.24, (6.73, 4.73, 5.58, 2.83)),
    ("7", 7.4, 7.59, (6.94, 7.17, 5.96, 6.54)), ("8", 6.83, 9.33, (6.42, 9.08, 6.17, 8.8)),
    ("9", 8.55, 4.4, (8.09, 4.18, 7.57, 3.46)), ("10", 8.3, 5.9, (7.98, 5.36, 7.25, 3.91)),
    ("12", 9.61, 4.0, (9.13, 3.82, 8.57, 3.19)), ("13", 9.61, 3.1, (9.03, 2.86, 8.57, 2.77)),
    ("17", 11.95, 3.19, (12.2, 2.46, 12.2, 1.92)), ("19", 13.17, 2.83, (13.1, 2.3, 13.1, 1.75)),
    ("20", 13.63, 7.36, None), ("22", 15.3, 7.48, None),
    ("21", 16.34, 3.91, (15.82, 3.55, 15.15, 3.1)), ("23", 16.03, 2.7, (15.78, 2.3, 15.65, 1.55)),
    ("24", 16.8, 1.92, (16.3, 1.74, 15.83, 1.55)), ("25", 19.06, 3.22, (18.6, 3.0, 18.45, 2.8)),
    ("26", 20.63, 2.83, (20.2, 2.46, 19.95, 1.92)), ("27", 21.67, 2.1, (21.88, 1.65, 22.0, 1.1)),
    ("28", 21.67, 5.78, (22.4, 5.63, 22.71, 5.09)), ("29", 23.24, 2.83, (23.35, 2.19, 23.35, 1.29)),
    ("30", 25.16, 16.9, (24.66, 16.59, 24.08, 16.5)), ("31", 25.64, 6.27, (25.12, 5.91, 24.6, 5.36)),
    ("33", 27.59, 3.91, (27.1, 3.37, 26.96, 3.0)), ("34", 29.97, 5.78, None),
    ("36", 31.35, 3.33, (31.6, 2.83, 31.66, 2.01)), ("38", 33.52, 3.51, (34.21, 2.92, 35.15, 1.92)),
    ("37", 34.94, 5.6, (35.05, 5.1, 34.78, 4.46)), ("39", 36.34, 4.96, (35.9, 4.46, 35.46, 4.1)),
    ("44", 38.75, 5.49, (38.54, 5.1, 38.33, 4.83)), ("45", 39.29, 3.73, (39.96, 3.46, 40.48, 3.0)),
    ("46", 42.05, 3.28, (41.32, 3.13, 40.9, 2.83)),
]

d_labels = [
    ("5", 3.69, 15.81, (4.21, 15.56, 4.95, 13.93)), ("8", 7.51, 14.89, (7.04, 14.31, 6.2, 13.56)),
    ("7", 3.48, 12.06, (4.0, 11.55, 5.79, 9.8)), ("2", 2.26, 10.38, (2.81, 10.13, 3.52, 9.17)),
    ("4", 7.04, 9.67, (6.62, 9.12, 4.49, 5.16)), ("9", 8.09, 8.22, (7.84, 7.67, 6.88, 5.16)),
    ("1", 2.22, 7.04, (2.81, 6.72, 3.31, 5.86)), ("12", 8.93, 7.04, (8.41, 6.54, 7.84, 5.66)),
    ("3", 2.18, 5.16, (2.75, 5.16, 3.79, 4.91)), ("6", 8.89, 5.49, (8.41, 5.16, 5.68, 2.91)),
    ("13", 10.34, 5.54, (9.81, 5.04, 8.55, 2.21)), ("10", 8.97, 3.86, (8.41, 3.53, 7.67, 2.91)),
    ("15", 11.17, 4.16, (10.95, 3.8, 10.9, 3.4)), ("16", 12.66, 4.91, (12.6, 4.3, 12.38, 3.9)),
    ("20", 14.76, 12.43, (14.38, 11.93, 13.92, 11.3)), ("23", 16.52, 11.1, (16.06, 10.55, 15.53, 9.92)),
    ("24", 16.58, 4.84, (16.23, 4.29, 15.89, 2.91)), ("25", 19.2, 2.71, (18.8, 2.28, 18.48, 2.03)),
    ("26", 20.98, 2.71, (20.45, 2.16, 20.08, 1.4)), ("28", 22.83, 6.47, (22.88, 5.9, 22.9, 5.4)),
    ("29", 23.31, 3.23, (23.46, 2.4, 23.46, 1.6)), ("30", 25.13, 9.12, (24.63, 8.72, 24.21, 8.17)),
    ("31", 25.33, 4.41, (24.92, 4.04, 24.6, 3.41)), ("33", 27.83, 3.16, (27.38, 2.66, 27.06, 2.16)),
    ("34", 30.96, 5.79, (30.4, 5.3, 30.05, 4.9)), ("35", 32.21, 3.46, (32.0, 2.66, 31.71, 1.9)),
    ("37", 35.4, 5.41, (35.08, 4.91, 34.83, 3.91)), ("43", 39.35, 9.67, (38.83, 9.3, 38.31, 8.62)),
    ("44", 39.5, 5.86, (39.04, 5.41, 38.52, 4.54)),
]

e_labels = [
    ("15", 10.86, 2.37, (11.04, 1.7, 10.93, 1.07)), ("16", 12.91, 2.48, (12.63, 1.85, 12.47, 1.49)),
    ("20", 13.69, 5.08, (13.9, 4.5, 13.9, 4.25)), ("21", 15.26, 5.17, (15.5, 4.8, 15.5, 4.5)),
    ("33", 27.21, 1.85, (27.38, 1.46, 27.21, 0.72)), ("43", 37.06, 3.41, (37.58, 3.33, 38.31, 2.87)),
    ("44", 39.56, 3.41, (39.15, 3.33, 38.52, 2.71)),
]

inset_labels = [
    ("1", 3.125, 8.44, (3.2, 7.36, 3.3, 4.8)), ("2", 3.48, 10.65, (3.54, 9.38, 3.61, 6.28)),
    ("3", 5.34, 10.0, (5.25, 8.7, 5.08, 7.63)), ("4", 5.84, 8.84, (5.79, 8.03, 5.5, 4.8)),
    ("5", 6.62, 10.5, (6.5, 9.9, 6.3, 7.36)), ("6", 6.76, 8.5, (6.81, 7.36, 6.76, 3.85)),
    ("7", 7.07, 8.9, (7.06, 7.76, 7.06, 3.45)),
]

panel_letters = ["A", "B", "C", "D", "E"]
d_marker_time = [22.55]   # magenta marker on the D time axis
e_marker_time = [0.0]     # start marker of trace E
minute_ticks = list(range(1, 45))
inset_minute_ticks = [round(3.2 + 0.2 * i, 1) for i in range(26)]

TRACE = '#1e1ec4'
W, H = 769, 1823

sns.set_style('ticks')
plt.rcParams['font.family'] = ['Open Sans', 'DejaVu Sans']


def sci_label(v, pos):
    if v == 0:
        return '0.0e0'
    e = int(math.floor(math.log10(abs(v))))
    m = v / 10 ** e
    if round(m, 1) >= 10:
        m /= 10
        e += 1
    return f'{m:.1f}e{e}'


def px_axes(fig, left, top, right, bottom):
    return fig.add_axes([left / W, 1 - bottom / H, (right - left) / W, (bottom - top) / H])


def draw_trace(ax, trace, scale, lw=0.9):
    df = pd.DataFrame(trace, columns=['time', 'signal'])
    df['signal'] = df['signal'] * scale
    sns.lineplot(data=df, x='time', y='signal', ax=ax, color=TRACE, lw=lw,
                 estimator=None, sort=False, legend=False)
    ax.set_xlabel('')
    ax.set_ylabel('')


def draw_labels(ax, labels, scale, family, size):
    for text, tx, tv, line in labels:
        if line is not None:
            ax.plot([line[0], line[2]], [line[1] * scale, line[3] * scale],
                    color='#444444', lw=0.6, solid_capstyle='butt')
        ax.text(tx, tv * scale, text, ha='center', va='center', fontsize=size,
                family=family, color='#111111')


def style_axes(ax, ymax, ystep, nticks, scale, xlabels=True, tick_size=4.5):
    ax.set_xlim(0, 45.2)
    ax.set_ylim(0, ymax * scale)
    ax.xaxis.set_major_locator(FixedLocator(minute_ticks))
    ax.xaxis.set_minor_locator(MultipleLocator(0.5))
    ax.set_xticklabels([str(m) for m in minute_ticks])
    yt = np.arange(nticks) * (ystep * scale)
    ax.yaxis.set_major_locator(FixedLocator(yt))
    ax.yaxis.set_major_formatter(FuncFormatter(sci_label))
    ax.yaxis.set_minor_locator(MultipleLocator(ystep * scale / 4))
    sns.despine(ax=ax)
    for s in ('left', 'bottom'):
        ax.spines[s].set_linewidth(0.7)
        ax.spines[s].set_color('#333333')
    ax.tick_params(which='major', length=2.5, width=0.5, color='#333333',
                   labelsize=tick_size, labelcolor='#333333', pad=1.5)
    ax.tick_params(which='minor', length=1.3, width=0.4, color='#333333')
    ax.tick_params(axis='x', labelbottom=xlabels)
    ax.patch.set_alpha(0)


fig = plt.figure(figsize=(W / 100, H / 100), dpi=100)

# panel A
ax_a = px_axes(fig, 36, 13, 757, 332)
draw_trace(ax_a, a_trace, 1e6)
style_axes(ax_a, 13.7, 1, 14, 1e6)
draw_labels(ax_a, a_labels, 1e6, 'Open Sans', 12.5)

# panel B
ax_b = px_axes(fig, 36, 388, 757, 707)
draw_trace(ax_b, b_trace, 1e6)
style_axes(ax_b, 9.41, 0.5, 19, 1e6, xlabels=False)
draw_labels(ax_b, b_labels, 1e6, 'Open Sans', 12.5)

# panel C
ax_c = px_axes(fig, 36, 763, 757, 1077)
draw_trace(ax_c, c_trace, 1e5)
style_axes(ax_c, 17.1, 1, 18, 1e5)
draw_labels(ax_c, c_labels, 1e5, 'Open Sans', 12.5)

# panel D
ax_d = px_axes(fig, 35, 1103, 757, 1422)
draw_trace(ax_d, d_trace, 1e5)
style_axes(ax_d, 24.0, 1, 25, 1e5)
draw_labels(ax_d, d_labels, 1e5, 'Liberation Sans', 11.5)
ax_d.plot(d_marker_time, [0] * len(d_marker_time), marker='*', color='#d0208a',
          ms=7, ls='none', clip_on=False, zorder=5)

# panel E
ax_e = px_axes(fig, 35, 1480, 757, 1798)
draw_trace(ax_e, e_trace, 1e5)
style_axes(ax_e, 14.86, 1, 15, 1e5)
draw_labels(ax_e, e_labels, 1e5, 'Liberation Sans', 11.5)
ax_e.plot(e_marker_time, [0] * len(e_marker_time), marker='+', color=TRACE,
          ms=5, mew=1.2, ls='none', clip_on=False, zorder=5)

# inset of E (expanded early region)
ax_i = px_axes(fig, 184, 1508, 660, 1653)
draw_trace(ax_i, inset_trace, 1e5, lw=0.8)
ax_i.set_xlim(3.0, 8.41)
ax_i.set_ylim(0, 11.7e5)
ax_i.xaxis.set_major_locator(FixedLocator(inset_minute_ticks))
ax_i.set_xticklabels([f'{m:.1f}' for m in inset_minute_ticks])
ax_i.yaxis.set_major_locator(FixedLocator(np.arange(12) * 1e5))
ax_i.yaxis.set_major_formatter(FuncFormatter(sci_label))
sns.despine(ax=ax_i)
for s in ('left', 'bottom'):
    ax_i.spines[s].set_linewidth(0.6)
    ax_i.spines[s].set_color('#444444')
ax_i.tick_params(length=1.5, width=0.4, labelsize=2.6, labelcolor='#555555', pad=1)
ax_i.patch.set_alpha(0)
draw_labels(ax_i, inset_labels, 1e5, 'Liberation Sans', 11.5)

# panel letters
letter_pos = [(718, 33), (715, 393), (708, 763), (708, 1128), (707, 1470)]
for letter, (x, y) in zip(panel_letters, letter_pos):
    fig.text(x / W, 1 - y / H, letter, ha='center', va='center', fontsize=15,
             fontweight='bold', family='Liberation Serif', color='#111111')

fig.savefig('out.png', dpi=100)
